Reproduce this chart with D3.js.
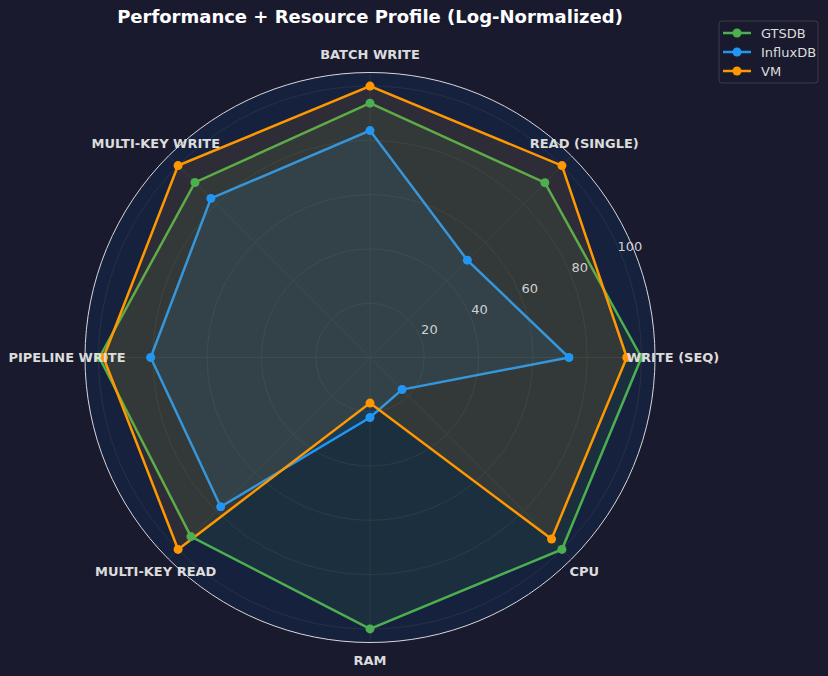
<!DOCTYPE html>
<html>
<head>
<meta charset="utf-8">
<script src="https://cdn.jsdelivr.net/npm/d3@7"></script>
<style>
    body {
        margin: 0;
        background-color: #1a1a2e;
    }
    svg {
        display: block;
        font-family: "DejaVu Sans", sans-serif;
    }
    .grid-lines {
        stroke: #263145;
        stroke-width: 1;
        fill: none;
    }
    .axis-label {
        fill: #dcdcdc;
        font-size: 13px;
        font-weight: bold;
    }
    .tick-label {
        fill: #d0d0d0;
        font-size: 13px;
    }
    .title-text {
        fill: #ffffff;
        font-size: 18px;
        font-weight: bold;
    }
    .legend-text {
        fill: #dddddd;
        font-size: 13px;
    }
</style>
</head>
<body>
<svg id="svg"></svg>
<script>
// categories, counter-clockwise starting at the right
const categories = ['WRITE (SEQ)', 'READ (SINGLE)', 'BATCH WRITE', 'MULTI-KEY WRITE',
    'PIPELINE WRITE', 'MULTI-KEY READ', 'RAM', 'CPU'];

const gtsdbValues = [100, 91.1, 93.7, 91.2, 99.7, 93.3, 100, 100];
const influxValues = [73.3, 50.7, 83.6, 82.9, 80.8, 77.8, 22.1, 16.7];
const vmValues = [94.6, 100, 100, 100, 98.2, 100, 16.8, 94.6];

const seriesNames = ['GTSDB', 'InfluxDB', 'VM'];
const seriesColors = ['#4caf50', '#2196f3', '#ff9800'];
const radialTicks = [20, 40, 60, 80, 100];

const width = 828, height = 676;
const cx = 370, cy = 357.5, outerR = 285;

const svg = d3.select('#svg')
    .attr('width', width)
    .attr('height', height);

svg.append('rect')
    .attr('width', width)
    .attr('height', height)
    .attr('fill', '#1a1a2e');

const rScale = d3.scaleLinear()
    .domain([0, 105])
    .range([0, outerR]);

// matplotlib-style theta (ccw from east) -> d3 radial angle (cw from north)
const step = 2 * Math.PI / categories.length;
const theta = i => i * step;
const toAngle = t => Math.PI / 2 - t;
const px = (t, r) => cx + r * Math.cos(t);
const py = (t, r) => cy - r * Math.sin(t);

const main = svg.append('g');

// polar background
main.append('circle')
    .attr('cx', cx)
    .attr('cy', cy)
    .attr('r', outerR)
    .attr('fill', '#16213e');

// circular grid
main.append('g').selectAll('circle')
    .data(radialTicks)
    .enter()
    .append('circle')
    .attr('class', 'grid-lines')
    .attr('cx', cx)
    .attr('cy', cy)
    .attr('r', d => rScale(d));

// spokes
main.append('g').selectAll('line')
    .data(categories)
    .enter()
    .append('line')
    .attr('class', 'grid-lines')
    .attr('x1', cx)
    .attr('y1', cy)
    .attr('x2', (_, i) => px(theta(i), outerR))
    .attr('y2', (_, i) => py(theta(i), outerR));

const series = [gtsdbValues, influxValues, vmValues];

const radarLine = d3.lineRadial()
    .angle((_, i) => toAngle(theta(i)))
    .radius(d => rScale(d))
    .curve(d3.curveLinearClosed);

const plot = main.append('g')
    .attr('transform', 'translate(' + cx + ',' + cy + ')');

series.forEach((values, s) => {
    plot.append('path')
        .datum(values)
        .attr('d', radarLine)
        .attr('fill', seriesColors[s])
        .attr('fill-opacity', 0.1)
        .attr('stroke', seriesColors[s])
        .attr('stroke-width', 2.5)
        .attr('stroke-linejoin', 'miter');
});

series.forEach((values, s) => {
    plot.append('g').selectAll('circle')
        .data(values)
        .enter()
        .append('circle')
        .attr('cx', (d, i) => rScale(d) * Math.cos(theta(i)))
        .attr('cy', (d, i) => -rScale(d) * Math.sin(theta(i)))
        .attr('r', 4.5)
        .attr('fill', seriesColors[s]);
});

// outer spine
main.append('circle')
    .attr('cx', cx)
    .attr('cy', cy)
    .attr('r', outerR)
    .attr('fill', 'none')
    .attr('stroke', '#d8d8d8')
    .attr('stroke-width', 1);

// radial tick labels at 22.5 degrees
const labelTheta = Math.PI / 8;
main.append('g').selectAll('text')
    .data(radialTicks)
    .enter()
    .append('text')
    .attr('class', 'tick-label')
    .attr('x', d => px(labelTheta, rScale(d) + 10))
    .attr('y', d => py(labelTheta, rScale(d) + 10) - 3)
    .attr('text-anchor', 'middle')
    .attr('dominant-baseline', 'central')
    .text(d => d);

// category labels
main.append('g').selectAll('text')
    .data(categories)
    .enter()
    .append('text')
    .attr('class', 'axis-label')
    .attr('x', (_, i) => px(theta(i), 303))
    .attr('y', (_, i) => py(theta(i), 303))
    .attr('text-anchor', 'middle')
    .attr('dominant-baseline', 'central')
    .text(d => d);

svg.append('text')
    .attr('class', 'title-text')
    .attr('x', 370)
    .attr('y', 23)
    .attr('text-anchor', 'middle')
    .text('Performance + Resource Profile (Log-Normalized)');

// legend
const legend = svg.append('g')
    .attr('transform', 'translate(719,21)');

legend.append('rect')
    .attr('width', 99)
    .attr('height', 62)
    .attr('rx', 3)
    .attr('fill', '#1a1a2e')
    .attr('stroke', '#3a3a4a')
    .attr('stroke-width', 1);

const rows = legend.selectAll('g.row')
    .data(seriesNames)
    .enter()
    .append('g')
    .attr('class', 'row')
    .attr('transform', (_, i) => 'translate(0,' + (12 + i * 19) + ')');

rows.append('line')
    .attr('x1', 4)
    .attr('x2', 32)
    .attr('stroke', (_, i) => seriesColors[i])
    .attr('stroke-width', 2.5);

rows.append('circle')
    .attr('cx', 18)
    .attr('r', 4.5)
    .attr('fill', (_, i) => seriesColors[i]);

rows.append('text')
    .attr('class', 'legend-text')
    .attr('x', 42)
    .attr('dominant-baseline', 'central')
    .text(d => d);
</script>
</body>
</html>
